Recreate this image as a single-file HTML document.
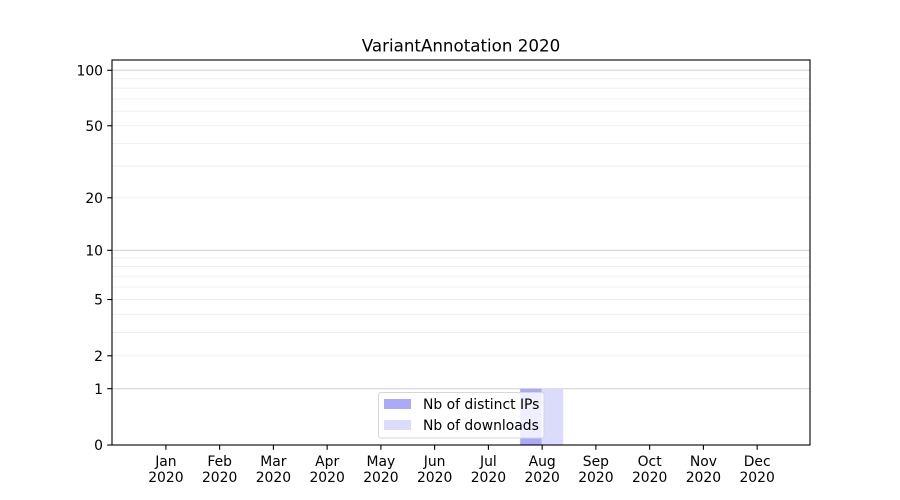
<!DOCTYPE html>
<html><head><meta charset="utf-8"><style>
html,body{margin:0;padding:0;background:#fff;}
svg{display:block;}
text{font-family:"DejaVu Sans","Liberation Sans",sans-serif;fill:#000;}
</style></head><body>
<svg width="900" height="500" viewBox="0 0 900 500" xmlns="http://www.w3.org/2000/svg">
<rect x="0" y="0" width="900" height="500" fill="#fff"/>
<!-- minor grid -->
<g stroke="#ececec" stroke-width="0.8">
<line x1="112" x2="810" y1="355.8" y2="355.8"/>
<line x1="112" x2="810" y1="332.44" y2="332.44"/>
<line x1="112" x2="810" y1="314.33" y2="314.33"/>
<line x1="112" x2="810" y1="299.53" y2="299.53"/>
<line x1="112" x2="810" y1="287.01" y2="287.01"/>
<line x1="112" x2="810" y1="276.17" y2="276.17"/>
<line x1="112" x2="810" y1="266.61" y2="266.61"/>
<line x1="112" x2="810" y1="258.05" y2="258.05"/>
<line x1="112" x2="810" y1="197.81" y2="197.81"/>
<line x1="112" x2="810" y1="166.19" y2="166.19"/>
<line x1="112" x2="810" y1="143.49" y2="143.49"/>
<line x1="112" x2="810" y1="125.77" y2="125.77"/>
<line x1="112" x2="810" y1="111.24" y2="111.24"/>
<line x1="112" x2="810" y1="98.9" y2="98.9"/>
<line x1="112" x2="810" y1="88.21" y2="88.21"/>
<line x1="112" x2="810" y1="78.76" y2="78.76"/>
</g>
<!-- major grid -->
<g stroke="#cfcfcf" stroke-width="1">
<line x1="112" x2="810" y1="388.72" y2="388.72"/>
<line x1="112" x2="810" y1="250.32" y2="250.32"/>
<line x1="112" x2="810" y1="70.29" y2="70.29"/>
</g>
<!-- bars -->
<rect x="520.2" y="388.72" width="21.5" height="56.28" fill="#aaaaf8"/>
<rect x="541.7" y="388.72" width="21.5" height="56.28" fill="#dbdbfc"/>
<!-- legend -->
<rect x="378.5" y="392.5" width="165.5" height="45.5" rx="2.5" ry="2.5" fill="#fff" fill-opacity="0.8" stroke="#d6d6d6" stroke-width="1"/>
<rect x="384" y="399" width="27" height="10" fill="#aaaaf8"/>
<rect x="384" y="420" width="27" height="10" fill="#dbdbfc"/>
<text x="423" y="409" font-size="13.9">Nb of distinct IPs</text>
<text x="423" y="430" font-size="13.9">Nb of downloads</text>
<!-- spines -->
<rect x="112" y="60" width="698" height="385" fill="none" stroke="#000" stroke-width="1.1"/>
<!-- y ticks -->
<g stroke="#000" stroke-width="1.1">
<line x1="107.2" x2="112" y1="445" y2="445"/>
<line x1="107.2" x2="112" y1="388.72" y2="388.72"/>
<line x1="107.2" x2="112" y1="355.8" y2="355.8"/>
<line x1="107.2" x2="112" y1="299.53" y2="299.53"/>
<line x1="107.2" x2="112" y1="250.32" y2="250.32"/>
<line x1="107.2" x2="112" y1="197.81" y2="197.81"/>
<line x1="107.2" x2="112" y1="125.77" y2="125.77"/>
<line x1="107.2" x2="112" y1="70.29" y2="70.29"/>
</g>
<g font-size="13.9" text-anchor="end">
<text x="103" y="450">0</text>
<text x="103" y="393.8">1</text>
<text x="103" y="360.9">2</text>
<text x="103" y="304.6">5</text>
<text x="103" y="255.4">10</text>
<text x="103" y="202.9">20</text>
<text x="103" y="130.8">50</text>
<text x="103" y="75.4">100</text>
</g>
<!-- x ticks -->
<g stroke="#000" stroke-width="1.1">
<line x1="165.9" x2="165.9" y1="445" y2="449.8"/>
<line x1="219.65" x2="219.65" y1="445" y2="449.8"/>
<line x1="273.4" x2="273.4" y1="445" y2="449.8"/>
<line x1="327.15" x2="327.15" y1="445" y2="449.8"/>
<line x1="380.9" x2="380.9" y1="445" y2="449.8"/>
<line x1="434.65" x2="434.65" y1="445" y2="449.8"/>
<line x1="488.4" x2="488.4" y1="445" y2="449.8"/>
<line x1="542.15" x2="542.15" y1="445" y2="449.8"/>
<line x1="595.9" x2="595.9" y1="445" y2="449.8"/>
<line x1="649.65" x2="649.65" y1="445" y2="449.8"/>
<line x1="703.4" x2="703.4" y1="445" y2="449.8"/>
<line x1="757.15" x2="757.15" y1="445" y2="449.8"/>
</g>
<g font-size="13.9" text-anchor="middle">
<text x="165.9" y="466">Jan</text><text x="165.9" y="482">2020</text>
<text x="219.65" y="466">Feb</text><text x="219.65" y="482">2020</text>
<text x="273.4" y="466">Mar</text><text x="273.4" y="482">2020</text>
<text x="327.15" y="466">Apr</text><text x="327.15" y="482">2020</text>
<text x="380.9" y="466">May</text><text x="380.9" y="482">2020</text>
<text x="434.65" y="466">Jun</text><text x="434.65" y="482">2020</text>
<text x="488.4" y="466">Jul</text><text x="488.4" y="482">2020</text>
<text x="542.15" y="466">Aug</text><text x="542.15" y="482">2020</text>
<text x="595.9" y="466">Sep</text><text x="595.9" y="482">2020</text>
<text x="649.65" y="466">Oct</text><text x="649.65" y="482">2020</text>
<text x="703.4" y="466">Nov</text><text x="703.4" y="482">2020</text>
<text x="757.15" y="466">Dec</text><text x="757.15" y="482">2020</text>
</g>
<text x="461" y="51.7" font-size="16.7" text-anchor="middle">VariantAnnotation 2020</text>
</svg>
</body></html>
